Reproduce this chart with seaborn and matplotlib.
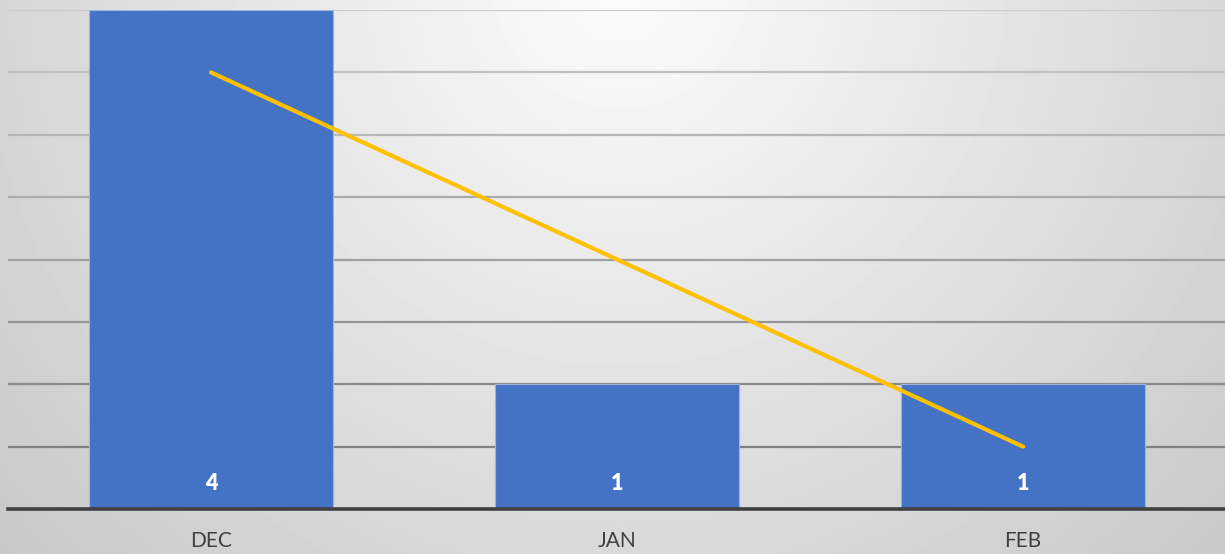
import numpy as np
import pandas as pd
import matplotlib
matplotlib.use("Agg")
import matplotlib.pyplot as plt
import seaborn as sns

months = ["DEC", "JAN", "FEB"]
counts = [4, 1, 1]
trend = [3.5, 2.0, 0.5]  # linear trendline

sns.set_theme(style="white")
plt.rcParams['font.family'] = ['Lato', 'DejaVu Sans']

W, H = 1225, 554
fig = plt.figure(figsize=(W / 100, H / 100), dpi=100)

# radial grey background, brightest at the top centre
bg = fig.add_axes([0, 0, 1, 1], zorder=-10)
yy, xx = np.mgrid[0:H, 0:W]
dist = np.hypot(xx - 620, yy + 20)
shade = np.clip(252 - 0.062 * dist, 0, 255) / 255.0
bg.imshow(shade, cmap="gray", vmin=0, vmax=1, aspect="auto", interpolation="bilinear")
bg.axis("off")

ax = fig.add_axes([8 / W, 45 / H, (W - 8) / W, 499 / H])
ax.patch.set_alpha(0)

df = pd.DataFrame({"month": months, "count": counts, "trend": trend})

# grid lines, darker toward the bottom
levels = np.arange(0.5, 4.01, 0.5)
for lv in levels:
    t = (lv - 0.5) / 3.5
    g = 0.50 + t * (0.80 - 0.50)
    ax.axhline(lv, color=(g, g, g), lw=1.6, zorder=0)

sns.barplot(data=df, x="month", y="count", color="#4472C4", saturation=1,
            width=0.6, edgecolor="#9db3e0", linewidth=0.8, ax=ax, zorder=2)
sns.lineplot(data=df, x="month", y="trend", color="#FFC000", lw=3,
             solid_capstyle="round", ax=ax, zorder=3)

for i, v in enumerate(counts):
    ax.annotate(str(v), (i, 0), xytext=(0, 18), textcoords="offset points",
                ha="center", va="center", color="white", fontsize=15.5,
                fontweight="heavy", zorder=4)

ax.set_xlim(-0.5, 2.497)
ax.set_ylim(0, 4)
ax.set_xlabel("")
ax.set_ylabel("")
ax.set_yticks([])
ax.tick_params(axis="x", length=0, pad=16, labelsize=15, colors="#404040")
for s in ["top", "left", "right"]:
    ax.spines[s].set_visible(False)
ax.spines["bottom"].set_color("#404040")
ax.spines["bottom"].set_linewidth(2.6)
ax.spines["bottom"].set_zorder(5)

fig.savefig("out.png", dpi=100)
